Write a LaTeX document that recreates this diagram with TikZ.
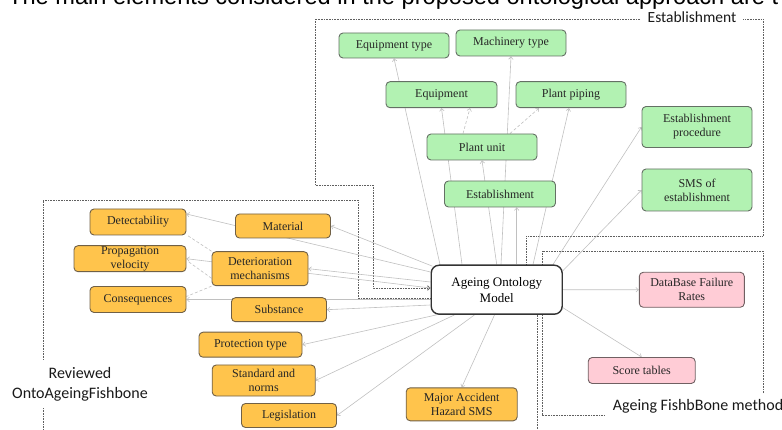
\documentclass[tikz,border=0pt]{standalone}
\usepackage{fontspec}
\setmainfont{Liberation Serif}
\newfontfamily\calib{Carlito}
\newfontfamily\arialf{Liberation Sans}
\usetikzlibrary{arrows.meta,calc}
\pgfdeclarelayer{bg}
\pgfsetlayers{bg,main}
\definecolor{gfill}{RGB}{178,242,178}
\definecolor{gdraw}{RGB}{100,112,100}
\definecolor{ofill}{RGB}{255,196,76}
\definecolor{odraw}{RGB}{112,96,70}
\definecolor{pfill}{RGB}{255,204,214}
\definecolor{pdraw}{RGB}{112,96,98}
\definecolor{conncol}{RGB}{192,192,192}
\definecolor{boxcol}{RGB}{95,95,95}
\begin{document}
\begin{tikzpicture}[x=1pt,y=-1pt,
  sz/.style 2 args={minimum width=#1pt,minimum height=#2pt},
  box/.style={rounded corners=4pt,line width=0.9pt,align=center,inner sep=0pt,font=\fontsize{12}{14}\selectfont,text=black!85},
  gbox/.style={box,fill=gfill,draw=gdraw},
  obox/.style={box,fill=ofill,draw=odraw},
  pbox/.style={box,fill=pfill,draw=pdraw},
  mainbox/.style={rounded corners=8pt,line width=1.4pt,draw=black!80,fill=white,align=center,inner sep=0pt,font=\fontsize{13}{16}\selectfont},
  conn/.style={draw=conncol,line width=0.6pt,-{Straight Barb[length=2.5pt,width=4.5pt]}},
  dconn/.style={conn,dash pattern=on 3pt off 2pt},
  dline/.style={draw=conncol,line width=0.6pt,dash pattern=on 3pt off 2pt},
  frame/.style={draw=boxcol,line width=0.8pt,dash pattern=on 0.8pt off 0.8pt},
  lab/.style={font=\calib\fontsize{16}{19.5}\selectfont,align=center,inner sep=0pt,text=black!90}
]
\useasboundingbox (0,0) rectangle (782,430);
\clip (0,0) rectangle (782,430);

\node[anchor=base west,inner sep=0pt,font=\arialf\fontsize{23.6}{24}\selectfont] (title) at (8,5) {The main elements considered in the proposed ontological approach are t};

% green nodes
\node[gbox,sz={110}{25}] (eqtype) at (394,45.5) {Equipment type};
\node[gbox,sz={110}{26}] (machtype) at (511,43) {Machinery type};
\node[gbox,sz={111}{26}] (equip) at (441.5,94.7) {Equipment};
\node[gbox,sz={110}{26}] (piping) at (571,94.7) {Plant piping};
\node[gbox,sz={110}{26}] (punit) at (482,147) {Plant unit};
\node[gbox,sz={111}{26}] (estab) at (500,194) {Establishment};
\node[gbox,sz={110}{41}] (estproc) at (697,127) {Establishment\\procedure};
\node[gbox,sz={110}{42}] (sms) at (697,190) {SMS of\\establishment};

% orange nodes
\node[obox,sz={96}{26}] (detect) at (138,222) {Detectability};
\node[obox,sz={95}{24}] (material) at (283,226) {Material};
\node[obox,sz={112}{26}] (propag) at (130,258.7) {Propagation\\velocity};
\node[obox,sz={96}{34}] (deter) at (260,268.7) {Deterioration\\mechanisms};
\node[obox,sz={96}{26}] (conseq) at (138,299.5) {Consequences};
\node[obox,sz={95}{24}] (subst) at (279,309.7) {Substance};
\node[obox,sz={103}{25}] (protect) at (250.5,344.7) {Protection type};
\node[obox,sz={103}{31}] (standard) at (263.7,380.5) {Standard and\\norms};
\node[obox,sz={95}{24}] (legis) at (289,415.5) {Legislation};
\node[obox,sz={111}{33}] (mahs) at (461.7,404.3) {Major Accident\\Hazard SMS};

% pink nodes
\node[pbox,sz={105}{35}] (dbfr) at (691.8,289.8) {DataBase Failure\\Rates};
\node[pbox,sz={107}{26}] (score) at (641.7,370.5) {Score tables};

% central node
\node[mainbox,sz={131}{49}] (aom) at (496.7,289.7) {Ageing Ontology\\Model};

% labels
\node[lab,font=\calib\fontsize{15.5}{18}\selectfont] (estlab) at (692,17) {Establishment};
\node[lab] (revlab) at (80,384.5) {Reviewed\\OntoAgeingFishbone};
\node[lab,anchor=west] (methlab) at (612.7,406.7) {Ageing FishbBone method};

\begin{pgfonlayer}{bg}
% frames
\draw[frame] ($(aom.north)+(29.3,0)$) -- (526,236) -- (763,236) -- (763,19.5) -- (743,19.5);
\draw[frame,-{Straight Barb[length=2.5pt,width=4.5pt]}] (640,19.5) -- (315,19.5) -- (315,185) -- (373,185) -- (373,288) -- ($(aom.west)+(0,-1.7)$);
\draw[frame] ($(aom.west)+(0,8.5)$) -- (358,298.2) -- (358,200) -- (43,200) -- (43,360);
\draw[frame] (43,408) -- (43,432);
\draw[frame] (763,393) -- (763,251) -- (542,251) -- (542,415) -- (605,415);
\draw[frame] ($(aom.south)+(40.3,0)$) -- (537,432);

% top connectors
\draw[conn] ($(aom.north)+(-56.7,0)$) -- (eqtype.south);
\draw[conn] ($(aom.north)+(-34.7,0)$) -- (equip.south);
\draw[conn] (aom.north) -- (punit.south);
\draw[conn] ($(aom.north)+(4.3,0)$) -- (machtype.south);
\draw[conn] ($(aom.north)+(20,0)$) -- ($(estab.south)+(16.7,0)$);
\draw[conn] ($(aom.north)+(36.3,0)$) -- ($(piping.south)+(-2,0)$);
\draw[conn] ($(aom.north)+(56.3,0)$) -- (estproc.west);
\draw[conn] ($(aom.east)+(0,-19)$) -- (sms.west);
\draw[dconn] ($(punit.north)+(-19,0)$) -- ($(equip.south)+(28.5,0)$);
\draw[dconn] ($(punit.north)+(28,0)$) -- ($(piping.south)+(-32,0)$);

% left connectors
\draw[conn] ($(aom.west)+(2,-23.5)$) -- (material.east);
\draw[conn] ($(aom.west)+(0,-17.7)$) -- ($(detect.east)+(0,-8)$);
\draw[conn] ($(aom.west)+(0,-7.7)$) -- (deter.east);
\draw[conn] ($(aom.west)+(0,-1.7)$) -- (propag.east);
\draw[conn] ($(aom.west)+(0,9.8)$) -- (conseq.east);
\draw[conn] ($(aom.west)+(0,15.3)$) -- (subst.east);
\draw[conn] ($(aom.south west)+(6,0)$) -- (protect.east);
\draw[conn] ($(aom.south west)+(24,0)$) -- (standard.east);
\draw[conn] ($(aom.south west)+(44,0)$) -- (legis.east);
\draw[conn] ($(aom.south west)+(64,0)$) -- (mahs.north);
\draw[dline] (deter.north west) -- ($(detect.south east)+(1,0)$);
\draw[dline] ($(deter.west)+(0,9.6)$) -- ($(propag.east)+(2,3)$);
\draw[dline] (deter.south west) -- ($(conseq.east)+(0,-3)$);

% right connectors
\draw[conn] (aom.east) -- (dbfr.west);
\draw[conn] ($(aom.east)+(0,18)$) -- (score.north);
\end{pgfonlayer}
\end{tikzpicture}
\end{document}
